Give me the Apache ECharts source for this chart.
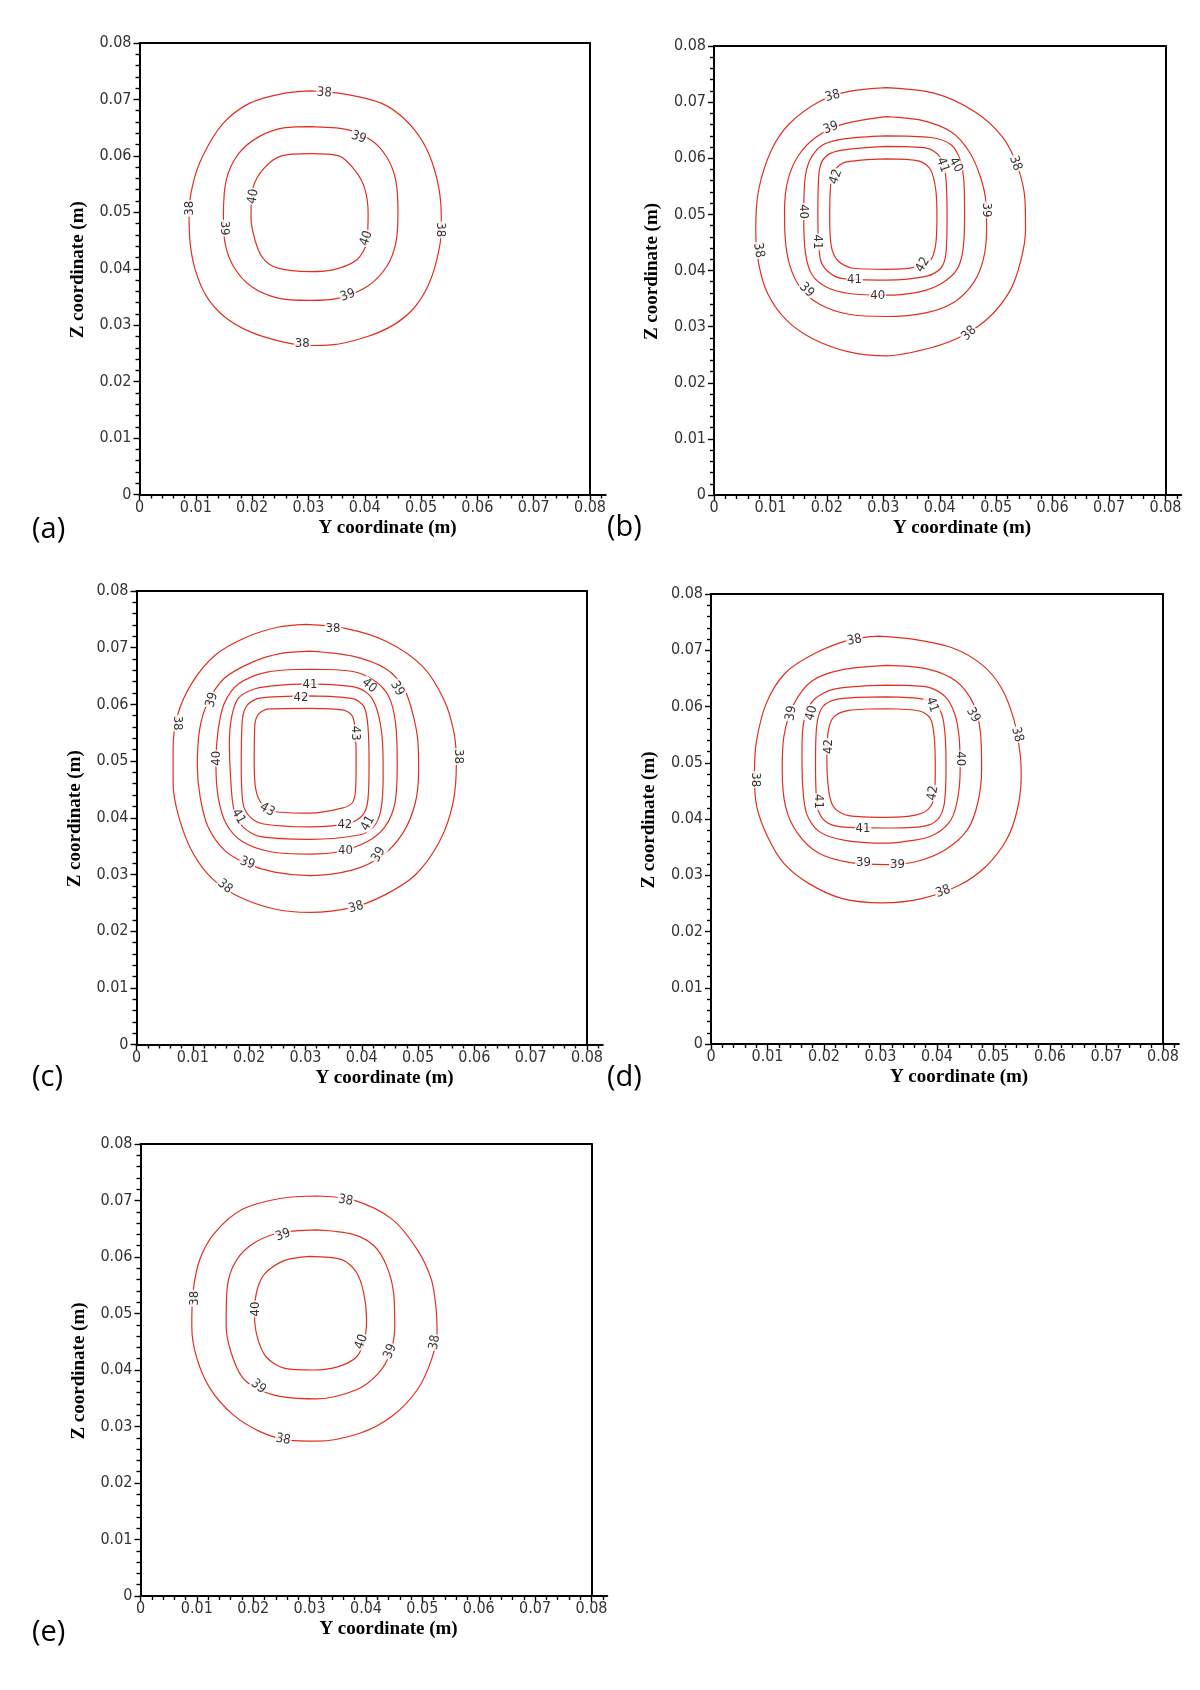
<!DOCTYPE html>
<html>
<head>
<meta charset="utf-8">
<style>html, body { margin: 0; background: #fff; }</style>
</head>
<body>
<div id="main" style="width:1200px;height:1690px"></div>
<script src="https://cdn.jsdelivr.net/npm/echarts@6/dist/echarts.min.js"></script>
<script>
// isotherm contours, points are [Y (m), Z (m)]
var a38 = [[0.0303,0.0715],[0.0367,0.0709],[0.0430,0.0693],[0.0471,0.0665],[0.0503,0.0625],[0.0524,0.0575],[0.0535,0.0516],[0.0536,0.0469],[0.0528,0.0416],[0.0512,0.0369],[0.0487,0.0330],[0.0452,0.0301],[0.0405,0.0280],[0.0341,0.0265],[0.0303,0.0264],[0.0252,0.0271],[0.0195,0.0289],[0.0151,0.0315],[0.0119,0.0351],[0.0099,0.0398],[0.0090,0.0445],[0.0088,0.0498],[0.0095,0.0551],[0.0113,0.0601],[0.0148,0.0657],[0.0195,0.0693],[0.0252,0.0710],[0.0303,0.0715]];
var a39 = [[0.0303,0.0652],[0.0367,0.0647],[0.0411,0.0628],[0.0439,0.0598],[0.0455,0.0557],[0.0459,0.0498],[0.0455,0.0445],[0.0439,0.0404],[0.0405,0.0369],[0.0354,0.0348],[0.0303,0.0344],[0.0246,0.0348],[0.0198,0.0369],[0.0167,0.0404],[0.0152,0.0445],[0.0149,0.0492],[0.0154,0.0557],[0.0176,0.0604],[0.0214,0.0635],[0.0259,0.0650],[0.0303,0.0652]];
var a40 = [[0.0303,0.0604],[0.0354,0.0600],[0.0383,0.0574],[0.0400,0.0542],[0.0406,0.0498],[0.0403,0.0445],[0.0386,0.0416],[0.0347,0.0399],[0.0303,0.0395],[0.0246,0.0401],[0.0219,0.0419],[0.0205,0.0451],[0.0198,0.0492],[0.0202,0.0545],[0.0221,0.0578],[0.0252,0.0600],[0.0303,0.0604]];

var b38 = [[0.0305,0.0726],[0.0390,0.0716],[0.0462,0.0683],[0.0511,0.0638],[0.0538,0.0585],[0.0551,0.0526],[0.0552,0.0472],[0.0544,0.0419],[0.0525,0.0365],[0.0489,0.0318],[0.0443,0.0285],[0.0390,0.0264],[0.0305,0.0248],[0.0239,0.0255],[0.0174,0.0279],[0.0128,0.0312],[0.0095,0.0359],[0.0079,0.0413],[0.0074,0.0472],[0.0079,0.0543],[0.0102,0.0615],[0.0134,0.0662],[0.0187,0.0701],[0.0239,0.0719],[0.0305,0.0726]];
var b39 = [[0.0305,0.0674],[0.0370,0.0667],[0.0420,0.0647],[0.0452,0.0612],[0.0472,0.0567],[0.0482,0.0520],[0.0483,0.0472],[0.0477,0.0419],[0.0459,0.0377],[0.0426,0.0344],[0.0377,0.0325],[0.0305,0.0318],[0.0239,0.0322],[0.0187,0.0340],[0.0154,0.0368],[0.0134,0.0410],[0.0126,0.0460],[0.0125,0.0508],[0.0131,0.0561],[0.0149,0.0604],[0.0180,0.0637],[0.0226,0.0660],[0.0305,0.0674]];
var b40 = [[0.0305,0.0640],[0.0384,0.0637],[0.0420,0.0624],[0.0436,0.0597],[0.0443,0.0555],[0.0444,0.0496],[0.0441,0.0436],[0.0430,0.0401],[0.0403,0.0377],[0.0364,0.0362],[0.0305,0.0356],[0.0239,0.0359],[0.0200,0.0370],[0.0174,0.0392],[0.0162,0.0431],[0.0159,0.0496],[0.0161,0.0561],[0.0170,0.0597],[0.0193,0.0624],[0.0233,0.0635],[0.0305,0.0640]];
var b41 = [[0.0305,0.0621],[0.0377,0.0618],[0.0400,0.0603],[0.0410,0.0573],[0.0413,0.0496],[0.0411,0.0431],[0.0402,0.0404],[0.0377,0.0390],[0.0305,0.0383],[0.0226,0.0386],[0.0200,0.0400],[0.0188,0.0422],[0.0184,0.0496],[0.0186,0.0573],[0.0195,0.0600],[0.0220,0.0613],[0.0305,0.0621]];
var b42 = [[0.0305,0.0599],[0.0364,0.0595],[0.0384,0.0579],[0.0393,0.0543],[0.0395,0.0496],[0.0393,0.0448],[0.0384,0.0419],[0.0357,0.0406],[0.0305,0.0402],[0.0246,0.0404],[0.0220,0.0417],[0.0208,0.0442],[0.0205,0.0496],[0.0207,0.0555],[0.0214,0.0579],[0.0233,0.0593],[0.0305,0.0599]];

var c38 = [[0.0302,0.0741],[0.0371,0.0734],[0.0444,0.0711],[0.0508,0.0667],[0.0546,0.0608],[0.0564,0.0549],[0.0568,0.0496],[0.0562,0.0426],[0.0538,0.0358],[0.0495,0.0299],[0.0441,0.0264],[0.0384,0.0242],[0.0308,0.0233],[0.0245,0.0239],[0.0181,0.0261],[0.0134,0.0293],[0.0099,0.0340],[0.0075,0.0402],[0.0065,0.0461],[0.0065,0.0520],[0.0072,0.0578],[0.0098,0.0637],[0.0140,0.0687],[0.0194,0.0718],[0.0251,0.0736],[0.0302,0.0741]];
var c39 = [[0.0308,0.0694],[0.0384,0.0685],[0.0444,0.0662],[0.0476,0.0626],[0.0492,0.0578],[0.0500,0.0531],[0.0501,0.0484],[0.0495,0.0426],[0.0473,0.0373],[0.0435,0.0332],[0.0384,0.0308],[0.0308,0.0298],[0.0245,0.0304],[0.0194,0.0320],[0.0156,0.0343],[0.0127,0.0384],[0.0113,0.0437],[0.0108,0.0490],[0.0112,0.0555],[0.0126,0.0602],[0.0156,0.0646],[0.0207,0.0675],[0.0257,0.0690],[0.0308,0.0694]];
var c40 = [[0.0308,0.0662],[0.0384,0.0658],[0.0422,0.0642],[0.0448,0.0614],[0.0460,0.0567],[0.0463,0.0496],[0.0459,0.0426],[0.0441,0.0384],[0.0410,0.0358],[0.0359,0.0340],[0.0308,0.0336],[0.0238,0.0340],[0.0188,0.0358],[0.0159,0.0390],[0.0145,0.0437],[0.0141,0.0496],[0.0145,0.0555],[0.0156,0.0602],[0.0181,0.0636],[0.0232,0.0657],[0.0308,0.0662]];
var c41 = [[0.0308,0.0636],[0.0390,0.0630],[0.0415,0.0615],[0.0429,0.0584],[0.0437,0.0531],[0.0438,0.0473],[0.0434,0.0414],[0.0421,0.0384],[0.0397,0.0370],[0.0308,0.0362],[0.0219,0.0367],[0.0189,0.0384],[0.0173,0.0414],[0.0167,0.0473],[0.0165,0.0531],[0.0169,0.0578],[0.0181,0.0611],[0.0212,0.0628],[0.0257,0.0634],[0.0308,0.0636]];
var c42 = [[0.0308,0.0615],[0.0384,0.0610],[0.0404,0.0596],[0.0411,0.0561],[0.0413,0.0496],[0.0411,0.0432],[0.0402,0.0405],[0.0378,0.0390],[0.0308,0.0384],[0.0226,0.0389],[0.0202,0.0401],[0.0189,0.0426],[0.0186,0.0496],[0.0188,0.0573],[0.0197,0.0599],[0.0219,0.0611],[0.0308,0.0615]];
var c43 = [[0.0308,0.0593],[0.0368,0.0590],[0.0384,0.0578],[0.0389,0.0543],[0.0390,0.0496],[0.0389,0.0449],[0.0383,0.0426],[0.0365,0.0417],[0.0308,0.0408],[0.0245,0.0411],[0.0223,0.0424],[0.0212,0.0449],[0.0209,0.0496],[0.0210,0.0561],[0.0216,0.0582],[0.0235,0.0592],[0.0308,0.0593]];

var d38 = [[0.0296,0.0725],[0.0362,0.0719],[0.0428,0.0704],[0.0480,0.0674],[0.0514,0.0633],[0.0536,0.0577],[0.0547,0.0517],[0.0549,0.0476],[0.0542,0.0416],[0.0523,0.0363],[0.0487,0.0316],[0.0441,0.0283],[0.0375,0.0259],[0.0303,0.0251],[0.0231,0.0259],[0.0172,0.0286],[0.0129,0.0321],[0.0100,0.0369],[0.0081,0.0422],[0.0077,0.0476],[0.0080,0.0535],[0.0098,0.0606],[0.0132,0.0660],[0.0185,0.0695],[0.0244,0.0718],[0.0296,0.0725]];
var d39 = [[0.0310,0.0673],[0.0382,0.0667],[0.0434,0.0645],[0.0464,0.0606],[0.0477,0.0553],[0.0479,0.0488],[0.0472,0.0428],[0.0454,0.0381],[0.0414,0.0345],[0.0362,0.0324],[0.0310,0.0319],[0.0244,0.0323],[0.0191,0.0339],[0.0153,0.0375],[0.0132,0.0422],[0.0126,0.0488],[0.0129,0.0547],[0.0146,0.0603],[0.0178,0.0645],[0.0231,0.0665],[0.0310,0.0673]];
var d40 = [[0.0310,0.0638],[0.0382,0.0635],[0.0414,0.0618],[0.0431,0.0588],[0.0439,0.0547],[0.0441,0.0488],[0.0435,0.0428],[0.0421,0.0393],[0.0388,0.0369],[0.0336,0.0359],[0.0310,0.0357],[0.0237,0.0362],[0.0191,0.0378],[0.0169,0.0410],[0.0162,0.0464],[0.0161,0.0523],[0.0165,0.0577],[0.0182,0.0612],[0.0218,0.0631],[0.0310,0.0638]];
var d41 = [[0.0310,0.0617],[0.0375,0.0613],[0.0401,0.0600],[0.0412,0.0571],[0.0416,0.0499],[0.0413,0.0428],[0.0401,0.0399],[0.0375,0.0387],[0.0310,0.0384],[0.0231,0.0386],[0.0201,0.0397],[0.0188,0.0422],[0.0185,0.0499],[0.0187,0.0565],[0.0198,0.0600],[0.0224,0.0613],[0.0310,0.0617]];
var d42 = [[0.0310,0.0596],[0.0369,0.0592],[0.0388,0.0579],[0.0395,0.0547],[0.0397,0.0488],[0.0395,0.0440],[0.0385,0.0418],[0.0362,0.0407],[0.0310,0.0403],[0.0244,0.0406],[0.0219,0.0419],[0.0209,0.0446],[0.0205,0.0511],[0.0208,0.0559],[0.0218,0.0582],[0.0244,0.0593],[0.0310,0.0596]];

var e38 = [[0.0313,0.0708],[0.0377,0.0701],[0.0446,0.0667],[0.0491,0.0613],[0.0516,0.0560],[0.0524,0.0512],[0.0526,0.0465],[0.0516,0.0418],[0.0491,0.0365],[0.0446,0.0318],[0.0389,0.0288],[0.0313,0.0274],[0.0262,0.0276],[0.0212,0.0291],[0.0164,0.0321],[0.0123,0.0368],[0.0099,0.0424],[0.0091,0.0477],[0.0093,0.0536],[0.0105,0.0595],[0.0131,0.0642],[0.0180,0.0684],[0.0250,0.0704],[0.0313,0.0708]];
var e39 = [[0.0313,0.0648],[0.0377,0.0640],[0.0415,0.0619],[0.0437,0.0583],[0.0449,0.0536],[0.0451,0.0477],[0.0443,0.0430],[0.0421,0.0393],[0.0383,0.0365],[0.0313,0.0349],[0.0250,0.0353],[0.0209,0.0366],[0.0180,0.0388],[0.0161,0.0430],[0.0152,0.0477],[0.0153,0.0536],[0.0164,0.0583],[0.0193,0.0619],[0.0243,0.0642],[0.0313,0.0648]];
var e40 = [[0.0300,0.0601],[0.0358,0.0595],[0.0383,0.0573],[0.0396,0.0536],[0.0401,0.0489],[0.0397,0.0453],[0.0383,0.0423],[0.0351,0.0406],[0.0307,0.0400],[0.0256,0.0403],[0.0223,0.0423],[0.0207,0.0459],[0.0202,0.0501],[0.0207,0.0542],[0.0221,0.0571],[0.0256,0.0594],[0.0300,0.0601]];

// contour labels: [Y, Z, level]
var aLabels = [[0.0328,0.0712,38],[0.0389,0.0633,39],[0.0202,0.0528,40],[0.0089,0.0507,38],[0.0151,0.0472,39],[0.0403,0.0454,40],[0.0535,0.0469,38],[0.0370,0.0353,39],[0.0289,0.0267,38]];
var bLabels = [[0.0210,0.0711,38],[0.0207,0.0654,39],[0.0534,0.0591,38],[0.0428,0.0588,40],[0.0405,0.0588,41],[0.0216,0.0567,42],[0.0159,0.0505,40],[0.0482,0.0508,39],[0.0184,0.0451,41],[0.0079,0.0436,38],[0.0370,0.0410,42],[0.0249,0.0383,41],[0.0164,0.0365,39],[0.0290,0.0356,40],[0.0452,0.0288,38]];
var cLabels = [[0.0349,0.0734,38],[0.0308,0.0634,41],[0.0413,0.0633,40],[0.0463,0.0628,39],[0.0292,0.0612,42],[0.0134,0.0608,39],[0.0072,0.0567,38],[0.0389,0.0549,43],[0.0143,0.0505,40],[0.0571,0.0508,38],[0.0232,0.0414,43],[0.0181,0.0402,41],[0.0370,0.0387,42],[0.0411,0.0390,41],[0.0371,0.0342,40],[0.0430,0.0335,39],[0.0197,0.0320,39],[0.0157,0.0279,38],[0.0390,0.0242,38]];
var dLabels = [[0.0254,0.0718,38],[0.0391,0.0603,41],[0.0464,0.0585,39],[0.0142,0.0588,39],[0.0178,0.0588,40],[0.0542,0.0550,38],[0.0208,0.0529,42],[0.0441,0.0507,40],[0.0079,0.0470,38],[0.0393,0.0446,42],[0.0190,0.0431,41],[0.0269,0.0383,41],[0.0270,0.0322,39],[0.0330,0.0319,39],[0.0411,0.0271,38]];
var eLabels = [[0.0364,0.0700,38],[0.0253,0.0639,39],[0.0096,0.0527,38],[0.0204,0.0508,40],[0.0392,0.0450,40],[0.0443,0.0433,39],[0.0522,0.0449,38],[0.0209,0.0371,39],[0.0253,0.0277,38]];

// label angles (deg) so the numbers follow the lines
var aRot = [-5,-20,80,90,-90,70,-90,20,0];
var bRot = [15,20,-70,-60,-70,70,-90,-90,-90,-80,60,0,-45,0,45];
var cRot = [0,0,-40,-60,0,75,-90,-90,90,-90,-30,-60,0,60,0,60,-20,-40,15];
var dRot = [10,-70,-60,80,75,-75,90,-90,-90,80,-90,0,0,0,20];
var eRot = [-10,20,90,90,70,70,80,-40,-10];

var panelNames = ['(a)', '(b)', '(c)', '(d)', '(e)'];
var xTitle = 'Y coordinate (m)';
var yTitle = 'Z coordinate (m)';

var panels = [
    {contours: [a38, a39, a40], labels: aLabels, rot: aRot},
    {contours: [b38, b39, b40, b41, b42], labels: bLabels, rot: bRot},
    {contours: [c38, c39, c40, c41, c42, c43], labels: cLabels, rot: cRot},
    {contours: [d38, d39, d40, d41, d42], labels: dLabels, rot: dRot},
    {contours: [e38, e39, e40], labels: eLabels, rot: eRot}
];

// plot boxes in page pixels
var boxes = [
    {left: 139.5, top: 43, width: 450.5, height: 451.5},
    {left: 714, top: 46, width: 451.5, height: 449},
    {left: 136.5, top: 591, width: 450.5, height: 453.5},
    {left: 711, top: 594, width: 452, height: 450},
    {left: 140.5, top: 1144, width: 451, height: 452}
];
var letterPos = [[32, 530], [607, 528], [32, 1078], [607, 1078], [32, 1633]];

var tickFont = '"DejaVu Sans Condensed", "DejaVu Sans", sans-serif';
var black = {color: '#000', width: 2};
var tickStyle = {color: '#000', width: 1.4};

function fmt(v) {
    return v === 0 ? '0' : v.toFixed(2);
}

var grids = [], xAxes = [], yAxes = [], series = [], graphics = [];

panels.forEach(function (p, i) {
    var b = boxes[i];
    var gMain = grids.length;
    grids.push({left: b.left, top: b.top, width: b.width, height: b.height});
    // short stub of the bottom axis running past 0.08
    var gExt = grids.length;
    grids.push({left: b.left + b.width, top: b.top, width: b.width * 0.0028 / 0.08, height: b.height});

    var xi = xAxes.length;
    xAxes.push({
        gridIndex: gMain, type: 'value', min: 0, max: 0.08, interval: 0.01, position: 'bottom',
        axisLine: {show: true, onZero: false, lineStyle: black},
        axisTick: {show: true, length: 6, lineStyle: tickStyle},
        minorTick: {show: true, splitNumber: 5, length: 4, lineStyle: tickStyle},
        axisLabel: {formatter: fmt, margin: 5, fontSize: 16, color: '#333', fontFamily: tickFont},
        splitLine: {show: false}
    });
    xAxes.push({
        gridIndex: gMain, type: 'value', min: 0, max: 0.08, position: 'top',
        axisLine: {show: true, onZero: false, lineStyle: black},
        axisTick: {show: false}, axisLabel: {show: false}, splitLine: {show: false}
    });
    xAxes.push({
        gridIndex: gExt, type: 'value', min: 0.08, max: 0.0828, position: 'bottom',
        axisLine: {show: true, onZero: false, lineStyle: black},
        axisTick: {show: true, length: 4, lineStyle: tickStyle, customValues: [0.082]},
        axisLabel: {show: false}, splitLine: {show: false}
    });

    var yi = yAxes.length;
    yAxes.push({
        gridIndex: gMain, type: 'value', min: 0, max: 0.08, interval: 0.01, position: 'left',
        axisLine: {show: true, onZero: false, lineStyle: black},
        axisTick: {show: true, length: 6, lineStyle: tickStyle},
        minorTick: {show: true, splitNumber: 5, length: 4, lineStyle: tickStyle},
        axisLabel: {formatter: fmt, margin: 8, fontSize: 16, color: '#333', fontFamily: tickFont},
        splitLine: {show: false}
    });
    yAxes.push({
        gridIndex: gMain, type: 'value', min: 0, max: 0.08, position: 'right',
        axisLine: {show: true, onZero: false, lineStyle: black},
        axisTick: {show: false}, axisLabel: {show: false}, splitLine: {show: false}
    });
    yAxes.push({gridIndex: gExt, type: 'value', min: 0, max: 0.08, show: false});

    p.contours.forEach(function (c) {
        series.push({
            type: 'line', xAxisIndex: xi, yAxisIndex: yi, data: c,
            smooth: 0.3, symbol: 'none', silent: true, z: 2,
            lineStyle: {color: '#e0301e', width: 1.2}
        });
    });
    series.push({
        type: 'scatter', xAxisIndex: xi, yAxisIndex: yi, symbolSize: 1, z: 3, silent: true,
        itemStyle: {color: 'rgba(0,0,0,0)'},
        label: {
            show: true, position: 'inside', color: '#000', fontSize: 13, fontFamily: tickFont,
            backgroundColor: '#fff', padding: [0, 1],
            formatter: function (d) { return d.value[2]; }
        },
        data: p.labels.map(function (l, k) {
            return {value: l, label: {rotate: p.rot[k]}};
        })
    });

    graphics.push({
        type: 'text', x: letterPos[i][0], y: letterPos[i][1],
        style: {text: panelNames[i], fontSize: 29, fontFamily: '"Open Sans", sans-serif', fill: '#000', verticalAlign: 'middle'}
    });
    graphics.push({
        type: 'text', x: b.left + 248, y: b.top + b.height + 33.5,
        style: {text: xTitle, fontSize: 19, fontWeight: 'bold', fontFamily: '"Liberation Serif", serif', fill: '#000', align: 'center', verticalAlign: 'middle'}
    });
    graphics.push({
        type: 'text', x: b.left - 61.5, y: b.top + b.height / 2 + 1, rotation: Math.PI / 2,
        style: {text: yTitle, fontSize: 19, fontWeight: 'bold', fontFamily: '"Liberation Serif", serif', fill: '#000', align: 'center', verticalAlign: 'middle'}
    });
});

var chart = echarts.init(document.getElementById('main'));
chart.setOption({
    animation: false,
    backgroundColor: '#fff',
    grid: grids,
    xAxis: xAxes,
    yAxis: yAxes,
    series: series,
    graphic: graphics
});
</script>
</body>
</html>
